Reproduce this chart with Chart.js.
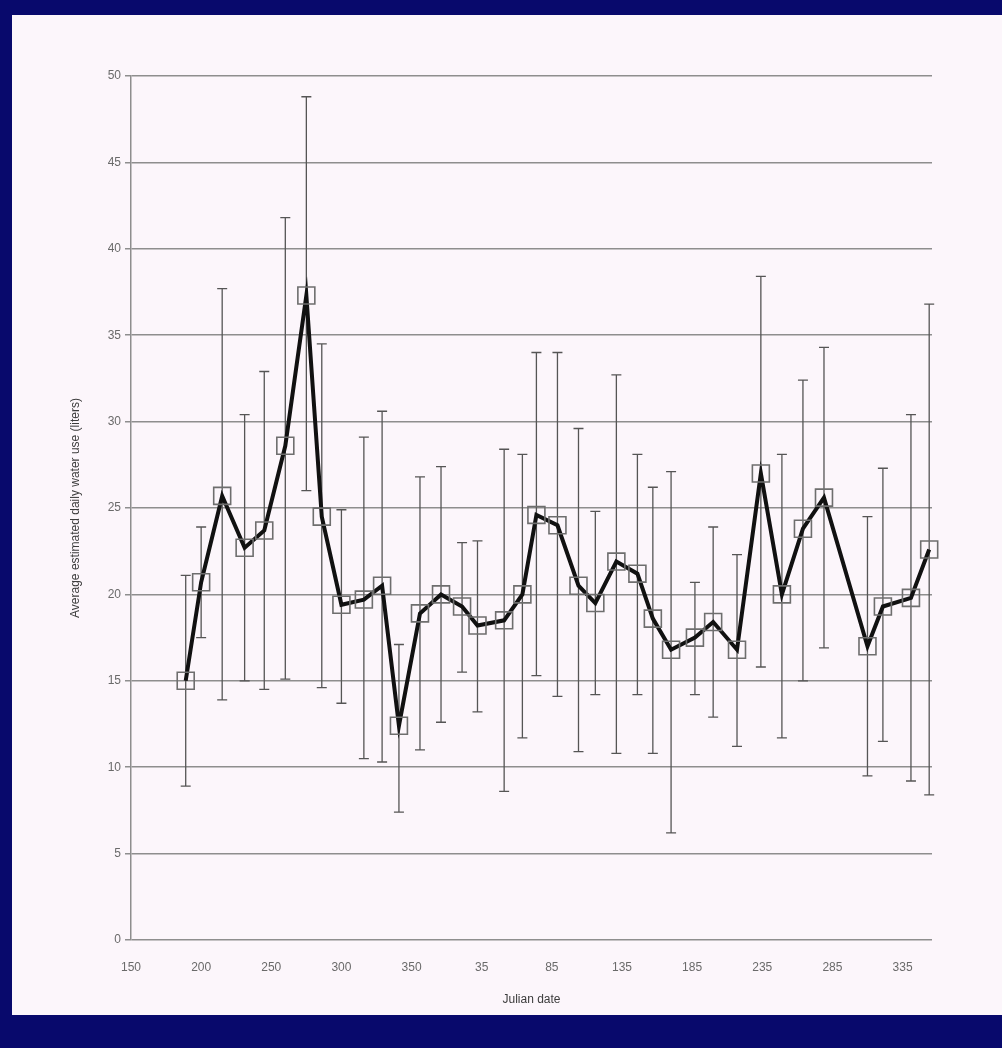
<!DOCTYPE html>
<html>
<head>
<meta charset="utf-8">
<script src="https://cdn.jsdelivr.net/npm/chart.js@4.4.1/dist/chart.umd.min.js"></script>
<style>
    html, body { margin:0; padding:0; }
    body { width:1002px; height:1048px; background:#08096c; position:relative; overflow:hidden; }
    #paper { position:absolute; left:12px; top:15px; width:990px; height:1000px; background:#fcf6fb; }
    #chart-wrap { position:absolute; left:0; top:0; width:990px; height:1000px; }
</style>
</head>
<body>
<div id="paper">
    <div id="chart-wrap"><canvas id="chart-water"></canvas></div>
</div>
<script>
// julian day, counted on past 365 so the second year keeps going right
const dayValues = [189,200,215,231,245,260,275,286,300,316,329,341,356,371,386,397,416,429,439,454,469,481,496,511,522,535,552,565,582,599,614,629,644,675,686,706,719];
// average estimated daily water use (liters)
const meanUse  = [15.0,20.7,25.7,22.7,23.7,28.6,37.3,24.5,19.4,19.7,20.5,12.4,18.9,20.0,19.3,18.2,18.5,20.0,24.6,24.0,20.5,19.5,21.9,21.2,18.6,16.8,17.5,18.4,16.8,27.0,20.0,23.8,25.6,17.0,19.3,19.8,22.6];
// error bar ends
const upperUse = [21.1,23.9,37.7,30.4,32.9,41.8,48.8,34.5,24.9,29.1,30.6,17.1,26.8,27.4,23.0,23.1,28.4,28.1,34.0,34.0,29.6,24.8,32.7,28.1,26.2,27.1,20.7,23.9,22.3,38.4,28.1,32.4,34.3,24.5,27.3,30.4,36.8];
const lowerUse = [8.9,17.5,13.9,15.0,14.5,15.1,26.0,14.6,13.7,10.5,10.3,7.4,11.0,12.6,15.5,13.2,8.6,11.7,15.3,14.1,10.9,14.2,10.8,14.2,10.8,6.2,14.2,12.9,11.2,15.8,11.7,15.0,16.9,9.5,11.5,9.2,8.4];
// x tick labels, one for every 50 days from 150
const dayTickLabels = ['150','200','250','300','350','35','85','135','185','235','285','335'];

const font_family = "'Liberation Sans', Arial, sans-serif";

//draws the vertical error bars with caps, under the line
const error_bars = {
    id: 'error_bars',
    beforeDatasetsDraw(chart) {
        const ctx = chart.ctx;
        const xs = chart.scales.x;
        const ys = chart.scales.y;
        ctx.save();
        ctx.strokeStyle = '#555555';
        ctx.lineWidth = 1.3;
        for(let i=0; i<dayValues.length; ++i) {
            const px = xs.getPixelForValue(dayValues[i]);
            const top = ys.getPixelForValue(upperUse[i]);
            const bot = ys.getPixelForValue(lowerUse[i]);
            ctx.beginPath();
            ctx.moveTo(px, top);
            ctx.lineTo(px, bot);
            ctx.moveTo(px-5, top);
            ctx.lineTo(px+5, top);
            ctx.moveTo(px-5, bot);
            ctx.lineTo(px+5, bot);
            ctx.stroke();
        }
        ctx.restore();
    }
};

function build_points() {
    return dayValues.map((d,i) => ({x: d, y: meanUse[i]}));
}

function draw_chart() {
    new Chart(document.getElementById('chart-water').getContext('2d'), {
        type: 'line',
        data: {
            datasets: [{
                data: build_points(),
                clip: false,
                borderColor: '#111111',
                borderWidth: 4,
                tension: 0,
                pointStyle: 'rect',
                pointRadius: 12,
                pointBorderColor: '#6e6e6e',
                pointBorderWidth: 1.6,
                pointBackgroundColor: 'rgba(0,0,0,0)'
            }]
        },
        options: {
            responsive: true,
            maintainAspectRatio: false,
            animation: false,
            layout: {padding: {left: 50, top: 61, right: 70, bottom: 0}},
            plugins: {legend: {display: false}, tooltip: {enabled: false}},
            scales: {
                x: {
                    type: 'linear',
                    min: 150,
                    max: 721,
                    grid: {display: false, drawTicks: false},
                    border: {display: false},
                    ticks: {
                        stepSize: 50,
                        includeBounds: false,
                        padding: 20,
                        color: '#6a6a6a',
                        font: {family: font_family, size: 12},
                        maxRotation: 0,
                        callback: (v) => dayTickLabels[Math.round((v-150)/50)]
                    },
                    title: {
                        display: true,
                        text: 'Julian date',
                        color: '#3c3c3c',
                        font: {family: font_family, size: 12},
                        padding: {top: 0, bottom: 8}
                    },
                    afterFit: (s) => { s.height = 75; }
                },
                y: {
                    min: 0,
                    max: 50,
                    grid: {color: '#8e8e8e', lineWidth: 1.5, tickLength: 6},
                    border: {display: true, color: '#8e8e8e', width: 1.5},
                    ticks: {
                        stepSize: 5,
                        padding: 4,
                        color: '#6a6a6a',
                        font: {family: font_family, size: 12}
                    },
                    title: {
                        display: true,
                        text: 'Average estimated daily water use (liters)',
                        color: '#3c3c3c',
                        font: {family: font_family, size: 12},
                        padding: {top: 6, bottom: 0}
                    },
                    afterFit: (s) => { s.width = 69; }
                }
            }
        },
        plugins: [error_bars]
    });
}

draw_chart();
</script>
</body>
</html>
